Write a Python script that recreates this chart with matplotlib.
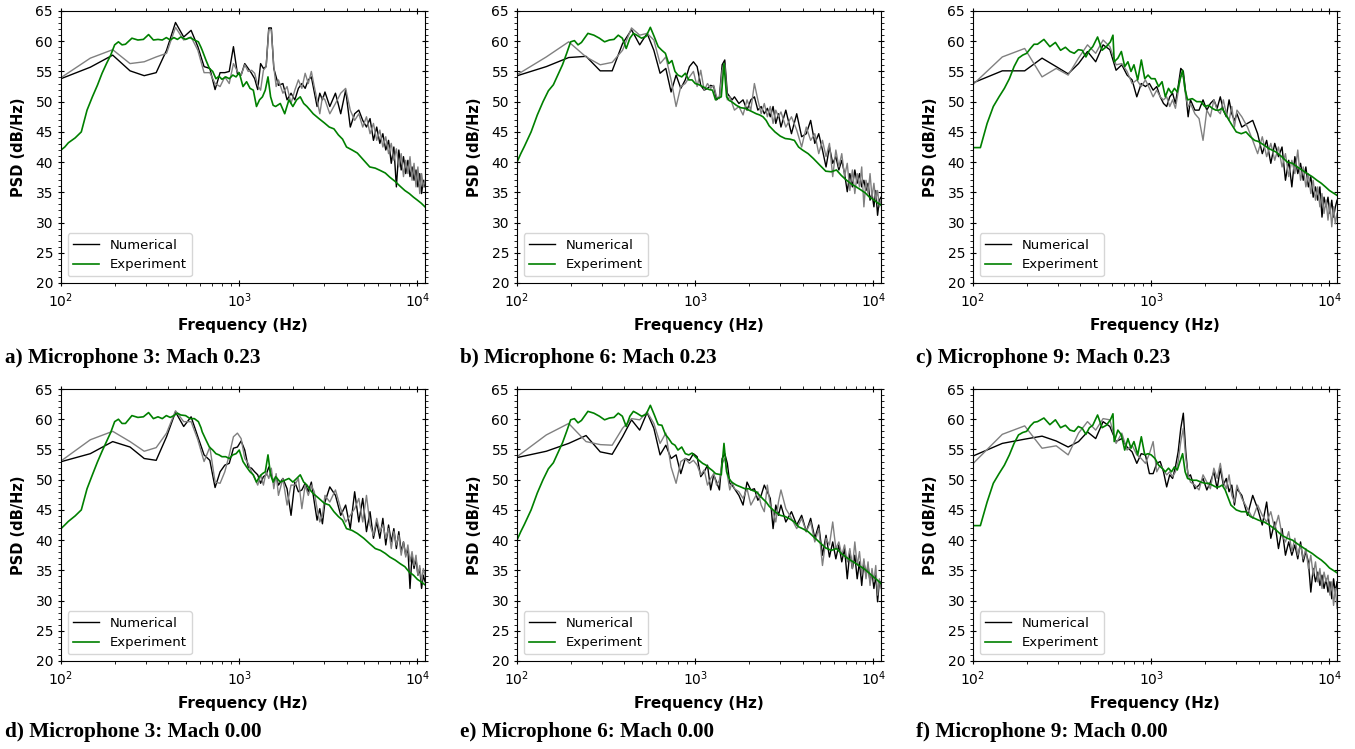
import matplotlib.pyplot as plt
from matplotlib.ticker import MultipleLocator

# frequency grids (Hz)
NUM_F = [98, 146, 195, 244, 293, 342, 391, 439, 488, 537, 586, 635, 684, 732, 781, 830,
         879, 928, 977, 1025, 1074, 1123, 1172, 1221, 1270, 1318, 1367, 1416, 1465, 1514,
         1563, 1611, 1660,
         1758, 1855, 1953, 2051, 2148, 2246, 2344, 2441, 2539, 2637, 2734, 2832, 2930, 3027,
         3223, 3467, 3711, 3955, 4199, 4443, 4688, 4932, 5176, 5420, 5664, 5908, 6152, 6396,
         6641, 6885, 7129, 7373, 7617, 7861, 8105, 8350, 8594, 8838, 9082, 9326, 9570, 9814,
         10059, 10303, 10547, 10791, 11035]

EXP_F = [100, 105, 110, 120, 130, 140, 150, 160, 170, 180, 190, 200, 210, 220, 230, 250,
         270, 290, 310, 330, 350, 370, 390, 410, 430, 450, 470, 500, 530, 560, 590, 610,
         620, 650, 680, 710, 740, 770, 800, 840, 880, 920, 960, 1000, 1050, 1100, 1150,
         1200, 1250, 1300, 1350, 1400, 1450, 1500, 1550, 1600, 1700, 1800, 1900, 2000,
         2100, 2200, 2300, 2400, 2500, 2600, 2800, 3000, 3200, 3400, 3600, 3800, 4000,
         4300, 4600, 5000, 5400, 5800, 6200, 6600, 7000, 7500, 8000, 8500, 9000, 9500,
         10000, 10500, 11025]

# a) mic 3, Mach 0.23
a_num = [53.7, 55.7, 57.7, 55.1, 54.3, 54.8, 58.5, 63.1, 60.7, 61.8, 59.1, 55.8, 55.5, 52.0, 54.8, 54.8,
         55.0, 59.1, 54.6, 54.4, 56.3, 55.5, 54.7, 53.8, 52.0, 56.3, 55.5, 55.8, 62.2, 62.2, 55.5, 54.1, 52.7,
         53.0, 50.3, 51.4, 50.3, 52.2, 53.0, 52.2, 53.6, 54.1, 51.6, 49.2, 51.4, 50.3, 51.6,
         49.2, 51.4, 48.0, 51.9, 45.8, 48.0, 48.6, 46.9, 45.8, 47.2, 43.6, 45.8, 43.1, 44.7, 42.0, 43.6,
         39.8, 42.5, 35.9, 42.0, 38.7, 40.9, 38.1, 40.3, 37.6, 39.2, 37.0, 38.7, 35.9, 38.1, 34.8, 37.0, 35.9]
a_num2 = [53.8, 57.2, 58.6, 56.3, 56.6, 57.4, 58.0, 62.3, 60.2, 60.7, 58.5, 54.8, 54.8, 53.0, 52.5, 54.1,
          53.0, 56.3, 55.0, 54.4, 56.1, 55.0, 55.2, 54.7, 52.7, 51.9, 55.2, 55.8, 61.9, 61.9, 55.8, 52.5, 53.6,
          51.4, 52.5, 49.7, 51.9, 53.6, 52.2, 54.7, 53.0, 55.0, 52.5, 50.3, 48.0, 50.8, 50.3,
          48.0, 49.7, 51.4, 52.2, 48.6, 46.9, 48.0, 45.8, 47.5, 44.7, 46.4, 43.6, 45.3, 42.5, 44.2, 41.4,
          43.1, 40.3, 42.2, 39.2, 41.4, 37.6, 40.3, 38.1, 40.9, 37.0, 39.8, 35.9, 39.2, 34.8, 38.1, 35.9, 37.0]
a_exp = [42.0, 42.5, 43.2, 44.0, 45.0, 48.6, 50.8, 52.7, 54.7, 56.3, 57.7, 59.4, 59.9, 59.4, 59.5, 60.5,
         60.2, 60.3, 61.1, 60.2, 60.3, 60.2, 60.6, 60.2, 60.6, 60.3, 60.7, 60.3, 60.6, 60.2, 59.9, 59.0,
         58.5, 56.9, 55.5, 55.0, 53.8, 54.2, 53.7, 54.1, 53.8, 54.4, 54.1, 54.8, 52.5, 53.3, 52.2,
         51.9, 49.2, 50.3, 50.8, 51.9, 54.1, 50.8, 49.4, 49.2, 49.7, 48.0, 50.3, 49.2,
         50.3, 50.8, 49.7, 49.2, 48.6, 48.0, 47.2, 46.5, 45.8, 45.5, 44.5, 43.8, 42.5,
         42.0, 41.5, 40.3, 39.2, 39.0, 38.6, 38.2, 37.5, 36.8, 36.0, 35.3, 34.8, 34.2, 33.7, 33.2, 32.6]

# b) mic 6, Mach 0.23
b_num = [54.2, 55.8, 57.3, 57.5, 55.1, 55.1, 59.6, 61.9, 59.4, 61.3, 58.5, 54.7, 55.5, 51.6, 54.4, 52.2,
         53.6, 55.8, 56.6, 55.8, 52.7, 51.9, 52.2, 52.7, 52.5, 50.3, 50.8, 56.1, 56.9, 51.4, 50.8, 50.3, 50.8,
         49.7, 50.3, 48.6, 50.3, 50.8, 48.6, 49.2, 48.0, 48.9, 47.5, 49.2, 46.4, 48.0, 45.8,
         48.6, 44.7, 48.0, 44.2, 44.7, 46.9, 43.1, 44.7, 42.0, 39.2, 42.5, 39.8, 40.9, 38.7, 40.3, 38.1,
         35.1, 38.1, 35.9, 38.7, 36.5, 38.1, 35.9, 37.0, 35.3, 36.5, 33.7, 34.8, 32.6, 35.3, 31.2, 33.7, 34.2]
b_num2 = [54.3, 57.4, 59.9, 57.4, 56.1, 56.5, 58.5, 62.2, 61.0, 61.3, 60.2, 56.3, 57.4, 53.6, 49.2, 52.5,
          53.0, 54.1, 55.0, 52.5, 55.2, 51.9, 53.0, 52.2, 52.7, 50.8, 50.5, 55.2, 56.1, 50.3, 50.8, 49.7, 48.6,
          49.2, 47.8, 50.3, 48.6, 53.0, 50.3, 48.0, 49.7, 47.5, 49.2, 46.4, 48.6, 47.5, 48.3,
          45.8, 47.5, 45.3, 42.5, 45.8, 43.6, 44.7, 41.4, 43.6, 40.9, 43.1, 37.6, 42.0, 39.2, 41.4, 37.6,
          39.8, 35.3, 38.7, 34.8, 38.1, 35.9, 39.2, 32.6, 37.0, 34.8, 38.1, 34.2, 36.5, 33.7, 35.3, 32.6, 33.7]
b_exp = [40.0, 41.4, 42.6, 45.0, 47.8, 50.0, 51.8, 52.8, 54.5, 56.1, 58.0, 59.9, 60.1, 59.4, 59.8, 61.3,
         61.0, 60.5, 59.9, 60.2, 60.3, 61.0, 60.5, 58.8, 60.5, 61.3, 61.0, 60.5, 60.8, 62.3, 60.7, 59.6,
         59.1, 58.5, 58.0, 56.3, 56.8, 55.0, 54.4, 54.1, 54.7, 53.6, 53.6, 53.0, 52.8, 52.5, 52.2,
         52.0, 51.9, 50.3, 50.6, 50.8, 56.3, 50.8, 50.2, 50.0, 49.4, 49.0, 48.9, 48.6,
         48.3, 48.0, 47.8, 47.5, 46.9, 46.0, 45.0, 44.3, 43.9, 43.8, 43.6, 42.5, 42.0,
         41.4, 40.6, 39.5, 38.5, 38.4, 38.7, 37.8, 37.1, 36.4, 35.9, 35.4, 34.9, 34.2, 33.8, 33.3, 32.9]

# c) mic 9, Mach 0.23
c_num = [53.0, 55.1, 55.1, 57.2, 55.8, 54.6, 56.3, 58.3, 56.6, 59.4, 58.6, 55.2, 56.1, 54.4, 53.6, 50.8,
         53.0, 52.5, 53.0, 51.9, 52.5, 50.8, 49.7, 49.2, 50.8, 51.4, 49.7, 52.5, 55.5, 55.0, 51.4, 47.5, 50.3,
         48.6, 48.6, 50.3, 48.6, 49.7, 50.3, 48.9, 50.8, 48.6, 47.5, 50.3, 48.0, 46.9, 48.0,
         45.8, 46.4, 46.9, 44.7, 41.4, 43.6, 39.8, 43.1, 40.9, 42.5, 37.0, 40.3, 35.9, 40.9, 38.1, 39.8,
         37.0, 39.2, 35.9, 37.6, 34.2, 35.9, 33.7, 35.9, 30.9, 34.2, 32.6, 34.2, 31.5, 33.7, 30.9, 32.6, 33.7]
c_num2 = [52.6, 57.4, 58.8, 54.1, 55.5, 54.4, 57.2, 59.4, 58.0, 60.2, 59.1, 56.1, 56.3, 55.0, 53.0, 53.6,
          52.5, 53.6, 52.2, 50.8, 51.9, 50.8, 50.3, 50.8, 49.2, 50.3, 48.9, 51.6, 54.4, 54.1, 50.8, 49.2, 49.7,
          48.0, 47.2, 43.6, 48.6, 47.5, 50.3, 48.6, 48.0, 50.3, 48.0, 46.9, 49.2, 45.8, 48.6,
          47.5, 45.8, 43.6, 41.4, 44.2, 40.9, 43.1, 40.3, 42.5, 39.2, 41.4, 37.6, 40.3, 38.1, 42.0, 37.0,
          39.2, 35.9, 38.1, 34.8, 37.0, 33.7, 35.9, 32.6, 34.8, 31.5, 33.7, 30.4, 33.1, 29.3, 32.6, 29.8, 31.5]
c_exp = [42.4, 42.4, 42.4, 46.4, 49.2, 50.8, 52.2, 53.8, 55.8, 57.2, 57.7, 58.0, 58.8, 59.5, 59.5, 60.3,
         59.1, 59.8, 58.5, 59.0, 58.3, 58.0, 58.6, 58.5, 57.4, 58.5, 59.1, 60.7, 58.5, 59.1, 59.9, 61.0,
         56.6, 57.2, 58.3, 55.8, 56.6, 55.0, 56.1, 53.6, 56.9, 53.8, 54.4, 53.8, 53.8, 52.5, 53.3,
         50.8, 52.2, 51.4, 52.2, 51.6, 53.6, 55.2, 51.9, 50.3, 50.5, 50.0, 50.0, 49.2,
         49.4, 48.9, 48.6, 48.6, 48.9, 48.0, 46.4, 45.0, 44.7, 45.0, 44.2, 43.6, 43.4,
         42.8, 42.2, 41.7, 40.9, 40.0, 39.8, 39.2, 38.7, 38.1, 37.6, 37.0, 36.5, 35.9, 35.3, 34.9, 34.5]

# d) mic 3, Mach 0.00
d_num = [52.9, 54.3, 56.3, 55.4, 53.5, 53.2, 57.1, 61.2, 58.8, 60.4, 57.1, 54.1, 53.2, 48.7, 51.3, 52.4,
         52.7, 55.2, 55.4, 56.4, 54.9, 52.1, 51.9, 51.3, 50.8, 49.4, 50.5, 50.8, 52.1, 50.8, 49.6, 50.5, 49.1,
         50.2, 48.5, 44.1, 49.6, 48.0, 48.3, 49.4, 48.0, 49.6, 46.3, 43.3, 45.2, 42.7, 46.3,
         48.8, 47.4, 44.1, 45.8, 41.9, 48.0, 43.0, 46.9, 41.4, 44.7, 40.3, 43.0, 40.3, 43.6, 39.2, 42.5,
         39.7, 41.9, 38.6, 41.4, 38.1, 39.7, 37.5, 38.6, 32.0, 37.5, 35.3, 36.9, 34.2, 35.3, 32.0, 34.2, 33.1]
d_num2 = [52.9, 56.6, 58.0, 56.3, 54.7, 55.3, 57.7, 61.4, 59.6, 59.6, 56.6, 53.0, 55.4, 49.6, 49.4, 51.3,
          54.1, 57.1, 57.7, 56.8, 53.5, 52.7, 51.3, 50.2, 49.1, 50.8, 49.1, 51.3, 50.2, 51.9, 48.5, 51.0, 47.4,
          50.2, 45.8, 49.1, 49.1, 50.2, 45.2, 49.1, 47.4, 49.1, 48.0, 45.2, 43.0, 44.1, 47.4,
          46.3, 48.3, 45.2, 43.0, 44.1, 45.2, 46.9, 43.0, 47.4, 42.5, 40.8, 43.6, 41.4, 42.5, 40.3, 41.9,
          38.6, 41.4, 39.2, 40.8, 37.5, 39.7, 37.2, 39.2, 36.4, 38.1, 35.8, 37.5, 34.2, 35.8, 33.1, 35.3, 34.2]
d_exp = [41.9, 42.5, 43.1, 44.0, 45.0, 48.5, 50.8, 52.9, 54.7, 56.3, 57.8, 59.6, 60.0, 59.3, 59.3, 60.6,
         60.3, 60.4, 61.1, 60.1, 60.4, 60.1, 60.6, 60.3, 60.6, 61.0, 60.7, 60.6, 60.1, 60.1, 59.6, 58.6,
         57.9, 56.6, 55.4, 54.9, 54.3, 54.1, 53.8, 53.8, 53.5, 54.1, 54.3, 54.9, 53.0, 52.1, 51.3,
         50.8, 49.6, 50.5, 51.0, 51.3, 54.1, 50.8, 49.6, 50.5, 49.6, 49.9, 50.2, 49.6,
         50.2, 50.8, 49.6, 49.1, 48.3, 47.7, 46.9, 46.1, 45.8, 44.7, 43.9, 43.3, 41.9,
         41.6, 41.1, 40.3, 39.4, 38.6, 38.3, 37.8, 37.2, 36.7, 36.1, 35.6, 34.7, 34.2, 33.5, 33.1, 32.6]

# e) mic 6, Mach 0.00
e_num = [53.6, 54.7, 56.0, 57.3, 54.6, 54.2, 57.1, 59.9, 58.2, 61.1, 58.5, 54.1, 55.7, 53.5, 54.1, 51.0,
         53.5, 53.2, 54.3, 53.8, 50.5, 51.3, 52.4, 48.3, 50.8, 49.6, 48.3, 53.5, 54.3, 52.7, 49.4, 49.1, 48.5,
         47.4, 45.8, 49.6, 48.3, 48.5, 46.6, 47.4, 49.1, 48.0, 46.9, 41.9, 45.8, 44.1, 45.8,
         43.0, 44.7, 42.5, 44.1, 41.4, 43.6, 40.3, 42.5, 37.5, 40.8, 37.2, 39.7, 36.9, 39.2, 36.4, 38.6,
         33.6, 38.1, 35.3, 37.5, 33.6, 36.4, 32.5, 36.4, 34.2, 35.8, 33.1, 34.7, 32.0, 34.2, 29.8, 33.1, 33.1]
e_num2 = [53.6, 57.4, 59.3, 56.3, 55.8, 55.7, 58.5, 60.1, 59.9, 61.2, 59.3, 56.0, 57.7, 52.1, 49.4, 53.0,
          53.5, 52.7, 53.2, 52.4, 50.8, 51.6, 49.1, 50.2, 51.0, 49.1, 49.9, 52.7, 53.5, 50.8, 48.3, 49.6, 48.5,
          48.0, 46.9, 48.5, 45.8, 46.9, 48.0, 45.8, 44.7, 49.1, 45.8, 44.7, 43.0, 46.3, 48.3,
          45.2, 43.6, 41.9, 43.6, 41.4, 43.0, 39.7, 41.9, 35.8, 40.3, 39.2, 43.0, 38.6, 39.7, 37.5, 39.2,
          36.4, 38.6, 35.3, 39.7, 35.8, 38.1, 34.2, 36.9, 33.6, 36.4, 32.5, 35.3, 33.1, 35.8, 30.9, 33.6, 32.0]
e_exp = [40.0, 41.4, 42.6, 45.0, 47.8, 50.0, 51.8, 52.8, 54.5, 56.1, 58.0, 59.9, 60.1, 59.4, 59.8, 61.3,
         61.0, 60.5, 59.9, 60.2, 60.3, 61.0, 60.5, 58.8, 60.5, 61.3, 61.0, 60.5, 60.8, 62.3, 60.7, 59.6,
         59.1, 59.0, 57.5, 56.8, 56.0, 55.7, 54.9, 55.4, 54.3, 54.1, 54.4, 53.8, 53.2, 52.7, 52.4,
         51.9, 51.5, 51.0, 50.9, 50.8, 56.0, 51.3, 50.2, 49.6, 49.1, 48.8, 48.5, 48.5,
         48.2, 48.0, 47.4, 46.8, 46.3, 45.6, 44.7, 44.1, 43.9, 43.5, 43.0, 42.2, 41.9,
         41.4, 40.6, 39.6, 38.7, 38.3, 38.6, 37.8, 37.2, 36.6, 36.1, 35.6, 35.1, 34.5, 33.9, 33.4, 32.8]

# f) mic 9, Mach 0.00
f_num = [53.8, 56.0, 56.7, 57.2, 56.4, 55.4, 56.3, 57.9, 56.8, 59.6, 58.8, 56.3, 56.8, 55.4, 54.6, 52.7,
         54.3, 54.1, 51.0, 51.0, 52.7, 53.0, 51.3, 48.8, 50.8, 50.2, 52.1, 54.6, 58.5, 61.0, 54.6, 50.5, 50.8,
         48.5, 49.1, 50.2, 48.3, 49.6, 51.3, 48.5, 51.9, 49.1, 50.2, 48.0, 49.1, 45.8, 48.5,
         47.4, 44.1, 47.4, 45.2, 42.5, 46.3, 40.3, 43.0, 38.6, 41.9, 37.5, 39.7, 37.5, 39.2, 36.9, 39.7,
         36.4, 38.1, 36.4, 31.4, 35.3, 33.1, 34.7, 32.5, 34.2, 32.0, 33.6, 31.4, 33.1, 30.3, 33.6, 31.4, 33.1]
f_num2 = [52.4, 57.5, 58.9, 55.2, 55.6, 54.1, 57.7, 59.6, 58.2, 60.1, 59.9, 56.0, 57.7, 54.9, 55.7, 54.1,
          53.5, 52.7, 54.3, 56.3, 51.3, 52.4, 51.6, 50.8, 51.3, 50.5, 51.3, 53.0, 56.3, 58.5, 53.5, 50.8, 49.6,
          49.1, 48.3, 50.8, 49.6, 48.5, 51.9, 50.2, 52.7, 49.6, 48.5, 50.8, 47.4, 46.3, 49.1,
          46.9, 45.2, 43.6, 45.8, 44.1, 43.0, 44.7, 41.9, 44.1, 40.8, 39.7, 41.4, 38.1, 40.3, 37.5, 39.2,
          36.9, 38.6, 35.3, 37.5, 34.2, 36.4, 33.1, 35.3, 32.0, 34.7, 33.1, 34.2, 30.9, 33.1, 29.2, 32.0, 28.7]
f_exp = [42.4, 42.4, 42.4, 46.3, 49.4, 51.0, 52.4, 54.1, 56.0, 57.4, 57.8, 58.0, 58.9, 59.5, 59.6, 60.2,
         59.1, 59.9, 58.6, 59.0, 58.2, 58.0, 58.8, 58.5, 57.5, 58.6, 59.0, 60.7, 58.6, 59.0, 59.9, 60.9,
         56.3, 58.2, 57.4, 54.9, 56.8, 55.2, 56.3, 54.1, 57.1, 54.1, 54.3, 54.1, 53.5, 52.4, 51.9,
         51.3, 51.9, 51.3, 52.1, 51.6, 53.0, 54.3, 51.3, 50.2, 49.9, 49.9, 49.6, 49.4,
         49.4, 49.1, 48.8, 48.8, 49.1, 48.3, 45.8, 45.0, 44.7, 44.7, 43.9, 43.6, 43.3,
         43.0, 42.5, 41.7, 40.8, 40.3, 40.0, 39.4, 38.9, 38.3, 37.8, 37.2, 36.7, 36.1, 35.4, 35.0, 34.6]

captions = ['a) Microphone 3: Mach 0.23', 'b) Microphone 6: Mach 0.23', 'c) Microphone 9: Mach 0.23',
            'd) Microphone 3: Mach 0.00', 'e) Microphone 6: Mach 0.00', 'f) Microphone 9: Mach 0.00']

panels = [(a_num, a_num2, a_exp), (b_num, b_num2, b_exp), (c_num, c_num2, c_exp),
          (d_num, d_num2, d_exp), (e_num, e_num2, e_exp), (f_num, f_num2, f_exp)]

FW, FH = 1355, 749
fig = plt.figure(figsize=(FW / 100, FH / 100), dpi=100)

lefts = [61, 517, 973]
tops = [11, 389]
cap_x = [5, 460, 916]
cap_y = [358, 732]
W, H = 364, 272

for i, (num, num2, exp) in enumerate(panels):
    r, c = divmod(i, 3)
    ax = fig.add_axes([lefts[c] / FW, 1 - (tops[r] + H) / FH, W / FW, H / FH])
    ax.plot(NUM_F, num, color='black', lw=1.0, label='Numerical')
    ax.plot(NUM_F, num2, color='gray', lw=1.0)
    ax.plot(EXP_F, exp, color='green', lw=1.2, label='Experiment')
    ax.set_xscale('log')
    ax.set_xlim(100, 11025)
    ax.set_ylim(20, 65)
    ax.yaxis.set_major_locator(MultipleLocator(5))
    ax.yaxis.set_minor_locator(MultipleLocator(1))
    ax.tick_params(which='major', direction='inout', length=4.5, top=True, right=True,
                   labelsize=10)
    ax.tick_params(which='minor', direction='out', length=2, top=True, right=True)
    ax.set_xlabel('Frequency (Hz)', fontweight='bold', fontsize=11, labelpad=6)
    ax.set_ylabel('PSD (dB/Hz)', fontweight='bold', fontsize=10.5, labelpad=7)
    ax.legend(loc='lower left', fontsize=9.5)
    fig.text(cap_x[c] / FW, 1 - cap_y[r] / FH, captions[i], family='Liberation Serif',
             fontweight='bold', fontsize=15.3, va='center', ha='left')

fig.savefig('out.png', dpi=100)
